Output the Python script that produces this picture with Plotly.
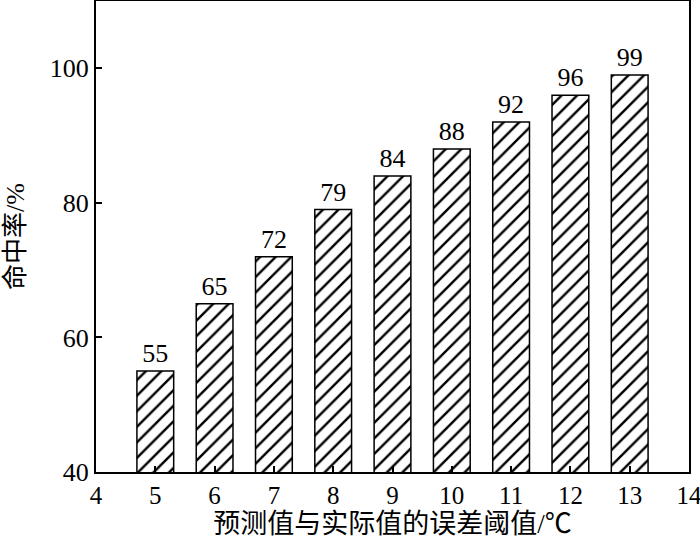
import plotly.graph_objects as go

thresholds = [5, 6, 7, 8, 9, 10, 11, 12, 13]
hit_rates = [55, 65, 72, 79, 84, 88, 92, 96, 99]
x_ticks = [4, 5, 6, 7, 8, 9, 10, 11, 12, 13, 14]
y_ticks = [40, 60, 80, 100]

FONT = "Liberation Serif, Times New Roman, Noto Sans CJK SC, serif"

fig = go.Figure()
fig.add_trace(go.Bar(
    x=thresholds,
    y=hit_rates,
    width=0.62,
    text=[str(v) for v in hit_rates],
    textposition="outside",
    textfont=dict(family=FONT, size=26, color="black"),
    cliponaxis=False,
    marker=dict(
        color="white",
        line=dict(color="black", width=1.5),
        pattern=dict(shape="/", fgcolor="black", bgcolor="white", fgopacity=1,
                     size=11, solidity=0.22, fillmode="overlay"),
    ),
    showlegend=False,
))

fig.update_layout(
    width=700, height=545,
    margin=dict(l=96, r=11, t=1, b=73),
    paper_bgcolor="white", plot_bgcolor="white",
    font=dict(family=FONT, size=26, color="black"),
)
fig.update_xaxes(
    range=[4, 14], tickmode="array", tickvals=x_ticks,
    ticks="inside", ticklen=6, tickwidth=1.5, tickcolor="black",
    showline=True, linecolor="black", linewidth=2, mirror=True,
    showgrid=False, zeroline=False, automargin=False,
    ticklabeloverflow="allow",
    tickfont=dict(family=FONT, size=25),
    title=dict(text="预测值与实际值的误差阈值/℃", font=dict(family=FONT, size=27), standoff=2),
)
fig.update_yaxes(
    range=[40, 110], tickmode="array", tickvals=y_ticks,
    ticks="inside", ticklen=6, tickwidth=1.5, tickcolor="black",
    showline=True, linecolor="black", linewidth=2, mirror=True,
    showgrid=False, zeroline=False, automargin=False,
    tickfont=dict(family=FONT, size=26),
    title=dict(text="命中率/%", font=dict(family=FONT, size=26), standoff=18),
)

fig.write_html("out.html", config={"displayModeBar": False},
               post_script="document.body.style.margin='0';document.body.style.overflow='hidden';")
